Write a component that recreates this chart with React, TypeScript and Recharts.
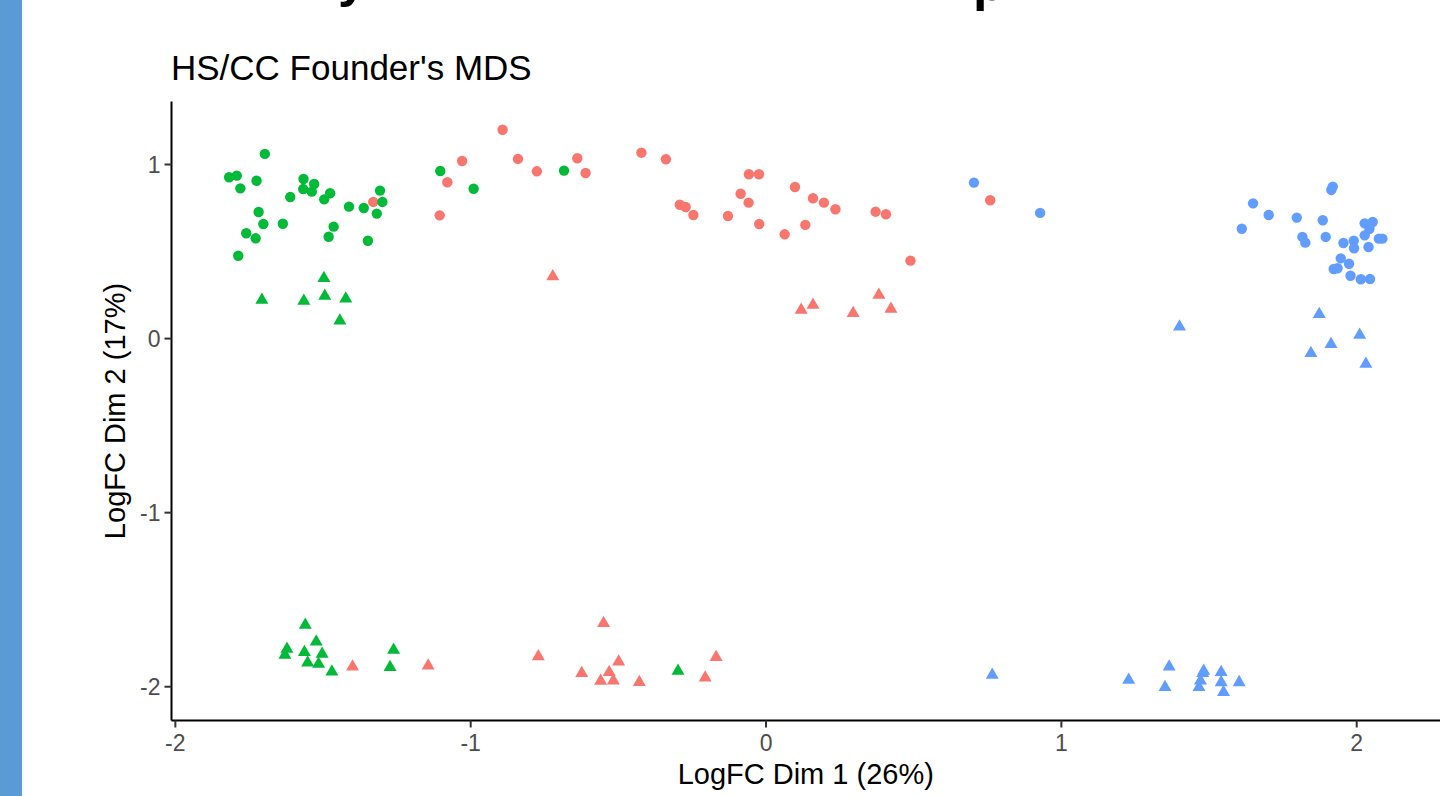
import { ScatterChart, Scatter, XAxis, YAxis } from 'recharts'

const FONT = '"Liberation Sans", Arial, Helvetica, sans-serif'

const RED = '#F8766D'
const GREEN = '#00BA38'
const BLUE = '#619CFF'

const xTicks = [-2, -1, 0, 1, 2]
const yTicks = [-2, -1, 0, 1]
const xDomain = [-2.013, 2.282]
const yDomain = [-2.194, 1.362]

const title = "HS/CC Founder's MDS"
const xLabel = 'LogFC Dim 1 (26%)'
const yLabel = 'LogFC Dim 2 (17%)'

const redCircles = [
  [-1.33, 0.785], [-1.029, 1.02], [-1.079, 0.898], [-1.105, 0.708], [-0.892, 1.2],
  [-0.84, 1.032], [-0.776, 0.961], [-0.639, 1.036], [-0.611, 0.951], [-0.422, 1.068],
  [-0.339, 1.03], [-0.292, 0.769], [-0.272, 0.756], [-0.246, 0.71], [-0.129, 0.704],
  [-0.086, 0.832], [-0.058, 0.944], [-0.024, 0.944], [-0.059, 0.781], [-0.023, 0.658],
  [0.063, 0.599], [0.098, 0.871], [0.133, 0.653], [0.159, 0.806], [0.196, 0.781],
  [0.235, 0.743], [0.371, 0.729], [0.406, 0.714], [0.489, 0.448], [0.759, 0.795],
]
const redTriangles = [
  [-0.722, 0.356], [0.119, 0.164], [0.159, 0.193], [0.295, 0.145], [0.382, 0.25],
  [0.423, 0.17], [-1.4, -1.885], [-1.144, -1.879], [-0.771, -1.827], [-0.55, -1.636],
  [-0.499, -1.856], [-0.624, -1.923], [-0.531, -1.917], [-0.56, -1.967], [-0.517, -1.965],
  [-0.429, -1.974], [-0.169, -1.831], [-0.206, -1.948],
]
const greenCircles = [
  [-1.697, 1.061], [-1.818, 0.927], [-1.792, 0.936], [-1.78, 0.863], [-1.725, 0.907],
  [-1.566, 0.917], [-1.53, 0.888], [-1.567, 0.859], [-1.538, 0.844], [-1.476, 0.835],
  [-1.496, 0.8], [-1.611, 0.813], [-1.412, 0.758], [-1.362, 0.75], [-1.307, 0.85],
  [-1.299, 0.785], [-1.318, 0.718], [-1.718, 0.727], [-1.702, 0.658], [-1.636, 0.66],
  [-1.76, 0.605], [-1.728, 0.576], [-1.464, 0.643], [-1.481, 0.585], [-1.348, 0.562],
  [-1.787, 0.476], [-1.103, 0.963], [-0.99, 0.861], [-0.684, 0.965],
]
const greenTriangles = [
  [-1.497, 0.346], [-1.707, 0.222], [-1.565, 0.216], [-1.494, 0.245], [-1.423, 0.229],
  [-1.443, 0.103], [-1.56, -1.645], [-1.523, -1.741], [-1.622, -1.783], [-1.629, -1.818],
  [-1.563, -1.802], [-1.503, -1.812], [-1.552, -1.862], [-1.515, -1.869], [-1.47, -1.914],
  [-1.261, -1.789], [-1.273, -1.888], [-0.298, -1.91],
]
const blueCircles = [
  [0.704, 0.896], [0.928, 0.722], [1.649, 0.777], [1.702, 0.71], [1.611, 0.631],
  [1.797, 0.695], [1.914, 0.854], [1.919, 0.873], [1.885, 0.68], [1.816, 0.584],
  [1.826, 0.551], [1.895, 0.584], [1.955, 0.549], [1.99, 0.562], [1.991, 0.519],
  [2.027, 0.662], [2.054, 0.67], [2.043, 0.63], [2.027, 0.593], [2.075, 0.574],
  [2.087, 0.574], [2.04, 0.526], [1.946, 0.461], [1.974, 0.43], [1.922, 0.4],
  [1.935, 0.404], [1.979, 0.361], [2.014, 0.341], [2.045, 0.342],
]
const blueTriangles = [
  [1.4, 0.068], [1.873, 0.14], [2.01, 0.021], [1.913, -0.033], [1.845, -0.084],
  [2.031, -0.146], [0.766, -1.933], [1.228, -1.961], [1.365, -1.885], [1.351, -2.003],
  [1.482, -1.91], [1.479, -1.923], [1.471, -1.965], [1.466, -2.003], [1.541, -1.917],
  [1.541, -1.975], [1.549, -2.032], [1.602, -1.975],
]

const toPts = (arr: number[][]) => arr.map(([x, y]) => ({ x, y }))

const Dot = (p: any) => <circle cx={p.cx} cy={p.cy} r={5.2} fill={p.fill} />

const Tri = (p: any) => {
  const s = 13
  const h = (s * Math.sqrt(3)) / 2
  const pts = [
    [p.cx, p.cy - (2 * h) / 3],
    [p.cx + s / 2, p.cy + h / 3],
    [p.cx - s / 2, p.cy + h / 3],
  ]
  return <polygon points={pts.map((q) => q.join(',')).join(' ')} fill={p.fill} />
}

const series = [
  { name: 'red-circle', color: RED, shape: Dot, data: toPts(redCircles) },
  { name: 'red-triangle', color: RED, shape: Tri, data: toPts(redTriangles) },
  { name: 'green-circle', color: GREEN, shape: Dot, data: toPts(greenCircles) },
  { name: 'green-triangle', color: GREEN, shape: Tri, data: toPts(greenTriangles) },
  { name: 'blue-circle', color: BLUE, shape: Dot, data: toPts(blueCircles) },
  { name: 'blue-triangle', color: BLUE, shape: Tri, data: toPts(blueTriangles) },
]

const XTitle = (p: any) => {
  const vb = p.viewBox
  return (
    <text x={vb.x + vb.width / 2} y={vb.y + 63} textAnchor="middle" fill="#000" fontSize={29} fontFamily={FONT}>
      {xLabel}
    </text>
  )
}

const YTitle = (p: any) => {
  const vb = p.viewBox
  return (
    <text
      transform={`translate(125,${vb.y + vb.height / 2}) rotate(-90)`}
      textAnchor="middle"
      fill="#000"
      fontSize={29}
      fontFamily={FONT}
    >
      {yLabel}
    </text>
  )
}

const tickStyle = { fill: '#4d4d4d', fontSize: 23, fontFamily: FONT }

export default function App() {
  return (
    <div style={{ position: 'absolute', left: 0, top: 0, width: 1447, height: 796, background: '#fff', overflow: 'hidden' }}>
      <ScatterChart width={1447} height={796} margin={{ top: 101.5, right: 7, bottom: 0, left: 0 }}>
        <XAxis
          type="number"
          dataKey="x"
          domain={xDomain}
          ticks={xTicks}
          allowDataOverflow
          height={75.5}
          axisLine={{ stroke: '#000', strokeWidth: 2 }}
          tickLine={{ stroke: '#333', strokeWidth: 2 }}
          tickSize={7}
          tickMargin={7}
          tick={tickStyle}
          label={{ content: XTitle }}
        />
        <YAxis
          type="number"
          dataKey="y"
          domain={yDomain}
          ticks={yTicks}
          allowDataOverflow
          width={171.5}
          axisLine={{ stroke: '#000', strokeWidth: 2 }}
          tickLine={{ stroke: '#333', strokeWidth: 2 }}
          tickSize={7}
          tickMargin={4}
          tick={tickStyle}
          label={{ content: YTitle }}
        />
        {series.map((s) => (
          <Scatter key={s.name} name={s.name} data={s.data} fill={s.color} shape={s.shape} isAnimationActive={false} />
        ))}
      </ScatterChart>
      <svg width={1447} height={796} style={{ position: 'absolute', left: 0, top: 0, pointerEvents: 'none' }}>
        <rect x={0} y={0} width={22} height={796} fill="#5b9bd5" />
        <text x={338} y={-4} fontSize={52} fontWeight="bold" fontFamily={FONT} fill="#000">y</text>
        <text x={973} y={0} fontSize={52} fontWeight="bold" fontFamily={FONT} fill="#000">p</text>
        <text x={171} y={80} fontSize={35} fontFamily={FONT} fill="#000">
          {title}
        </text>
      </svg>
    </div>
  )
}
